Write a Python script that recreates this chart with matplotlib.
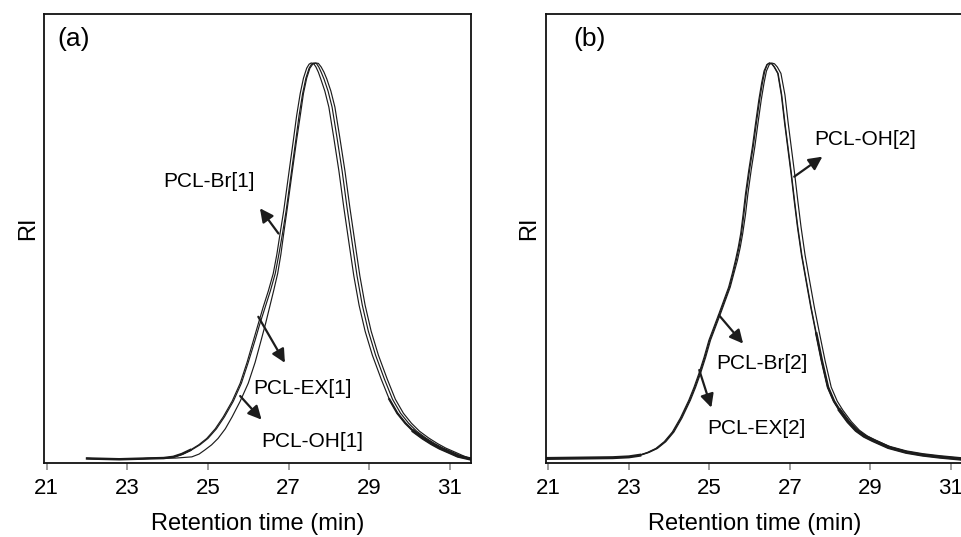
import numpy as np
import matplotlib
matplotlib.use("Agg")
import matplotlib.pyplot as plt

plt.rcParams['font.family'] = ['Liberation Sans', 'DejaVu Sans']

# ---- panel (a): GPC traces (x = min, y = normalised RI)
# all three traces are read at the same set of heights
a_y = [0.012, 0.01, 0.012, 0.013, 0.016, 0.023, 0.033, 0.046, 0.062, 0.086, 0.116, 0.155, 0.2,
       0.252, 0.3075, 0.349, 0.39, 0.431, 0.474, 0.522, 0.574, 0.631, 0.69, 0.749, 0.8075,
       0.868, 0.924, 0.962, 0.987, 0.997, 1.0, 0.999, 0.99, 0.977, 0.96, 0.93, 0.89, 0.815,
       0.73, 0.64, 0.55, 0.468, 0.395, 0.33, 0.27, 0.21, 0.16, 0.125, 0.1, 0.08, 0.063, 0.049,
       0.038, 0.027, 0.018, 0.01]
a_br_x = [22.0, 22.8, 23.5, 23.9, 24.14, 24.35, 24.56, 24.77, 24.97, 25.18, 25.38, 25.6, 25.8,
          25.97, 26.13, 26.25, 26.37, 26.5, 26.62, 26.71, 26.79, 26.88, 26.96, 27.04, 27.12,
          27.2, 27.29, 27.37, 27.45, 27.51, 27.56, 27.62, 27.68, 27.74, 27.8, 27.9, 28.0, 28.12,
          28.25, 28.37, 28.5, 28.62, 28.75, 28.9, 29.08, 29.3, 29.5, 29.7, 29.9, 30.1, 30.33,
          30.55, 30.75, 31.0, 31.2, 31.55]
a_ex_x = [22.0, 22.8, 23.5, 23.93, 24.17, 24.38, 24.59, 24.8, 25.0, 25.21, 25.41, 25.63, 25.83,
          26.0, 26.17, 26.29, 26.42, 26.55, 26.67, 26.76, 26.85, 26.94, 27.02, 27.1, 27.18,
          27.26, 27.35, 27.43, 27.51, 27.57, 27.63, 27.69, 27.75, 27.81, 27.88, 27.98, 28.08,
          28.2, 28.33, 28.45, 28.58, 28.7, 28.83, 28.98, 29.16, 29.38, 29.58, 29.78, 29.98,
          30.18, 30.41, 30.63, 30.83, 31.08, 31.28, 31.55]
a_oh_x = [22.0, 22.8, 23.5, 24.2, 24.6, 24.78, 24.92, 25.09, 25.25, 25.43, 25.6, 25.8, 26.0,
          26.17, 26.32, 26.43, 26.53, 26.63, 26.73, 26.81, 26.88, 26.96, 27.04, 27.12, 27.2,
          27.29, 27.37, 27.45, 27.53, 27.6, 27.67, 27.74, 27.81, 27.88, 27.95, 28.05, 28.15,
          28.27, 28.4, 28.52, 28.65, 28.77, 28.9, 29.05, 29.23, 29.45, 29.65, 29.85, 30.05,
          30.25, 30.48, 30.7, 30.9, 31.15, 31.35, 31.55]

# ---- panel (b)
b_y = [0.012, 0.013, 0.014, 0.016, 0.02, 0.027, 0.037, 0.054, 0.078, 0.113, 0.1575, 0.19,
       0.224, 0.265, 0.3075, 0.342, 0.374, 0.407, 0.44, 0.474, 0.5075, 0.54, 0.574, 0.622,
       0.674, 0.732, 0.79, 0.85, 0.9075, 0.95, 0.98, 0.996, 1.0, 0.998, 0.99, 0.974, 0.92,
       0.85, 0.787, 0.724, 0.655, 0.59, 0.52, 0.4575, 0.39, 0.324, 0.255, 0.19, 0.155, 0.1325,
       0.104, 0.0825, 0.068, 0.0575, 0.04, 0.028, 0.021, 0.016, 0.01]
b_br_x = [20.95, 21.8, 22.6, 23.0, 23.27, 23.48, 23.69, 23.9, 24.1, 24.3, 24.51, 24.64, 24.76,
          24.89, 25.01, 25.14, 25.26, 25.38, 25.5, 25.59, 25.67, 25.74, 25.8, 25.86, 25.92, 26.0,
          26.09, 26.17, 26.25, 26.32, 26.38, 26.44, 26.5, 26.56, 26.62, 26.71, 26.8, 26.88,
          26.96, 27.04, 27.12, 27.2, 27.3, 27.41, 27.53, 27.66, 27.8, 27.95, 28.1, 28.24, 28.45,
          28.65, 28.85, 29.06, 29.45, 29.89, 30.3, 30.72, 31.35]
b_ex_x = [20.95, 21.8, 22.6, 22.98, 23.25, 23.46, 23.67, 23.88, 24.08, 24.28, 24.49, 24.62,
          24.74, 24.87, 24.99, 25.12, 25.24, 25.36, 25.48, 25.57, 25.65, 25.72, 25.78, 25.84,
          25.9, 25.98, 26.07, 26.15, 26.23, 26.3, 26.36, 26.43, 26.49, 26.55, 26.61, 26.7, 26.79,
          26.87, 26.95, 27.03, 27.11, 27.19, 27.29, 27.4, 27.52, 27.65, 27.79, 27.94, 28.09,
          28.23, 28.44, 28.64, 28.84, 29.05, 29.44, 29.88, 30.29, 30.71, 31.35]
b_oh_x = [20.95, 21.8, 22.6, 23.02, 23.29, 23.5, 23.71, 23.92, 24.12, 24.32, 24.53, 24.66,
          24.78, 24.91, 25.03, 25.16, 25.28, 25.4, 25.52, 25.61, 25.7, 25.77, 25.83, 25.9, 25.96,
          26.04, 26.13, 26.21, 26.29, 26.36, 26.42, 26.49, 26.55, 26.62, 26.69, 26.78, 26.88,
          26.96, 27.04, 27.12, 27.2, 27.28, 27.38, 27.49, 27.61, 27.74, 27.88, 28.03, 28.18,
          28.32, 28.53, 28.73, 28.93, 29.14, 29.52, 29.96, 30.36, 30.78, 31.35]

# labels: (text, label x, label y, arrow tail x, tail y, head x, head y)
a_notes = [("PCL-Br[1]", 25.03, 0.703, 26.75, 0.574, 26.29, 0.637),
           ("PCL-EX[1]", 27.34, 0.188, 26.25, 0.366, 26.91, 0.251),
           ("PCL-OH[1]", 27.58, 0.055, 25.80, 0.168, 26.33, 0.109)]
b_notes = [("PCL-OH[2]", 28.88, 0.809, 27.11, 0.716, 27.81, 0.766),
           ("PCL-Br[2]", 26.30, 0.250, 25.24, 0.370, 25.84, 0.299),
           ("PCL-EX[2]", 26.18, 0.088, 24.75, 0.233, 25.05, 0.139)]

xticks = [21, 23, 25, 27, 29, 31]
line_col = '#1c1c1c'

fig = plt.figure(figsize=(9.62, 5.37), dpi=100)
ax_a = fig.add_axes([0.0461, 0.1373, 0.4436, 0.8367])
ax_b = fig.add_axes([0.5673, 0.1373, 0.4348, 0.8367])


def style_axis(ax, xlim, tag, tag_x):
    ax.set_xlim(*xlim)
    ax.set_ylim(0, 1.1225)
    ax.set_xticks(xticks)
    ax.set_yticks([])
    ax.tick_params(axis='x', direction='out', length=5, width=1.2, color='#8c8c8c',
                   labelsize=16, pad=5.5, labelcolor='black')
    for sp in ax.spines.values():
        sp.set_linewidth(1.3)
        sp.set_color('#111111')
    ax.set_xlabel('Retention time (min)', fontsize=17, labelpad=10)
    ax.set_ylabel('RI', fontsize=17)
    ax.yaxis.set_label_coords(-0.013, 0.524)
    ax.text(tag_x, 0.944, tag, transform=ax.transAxes, fontsize=19, ha='left', va='center')


def draw_notes(ax, notes):
    for txt, lx, ly, tx, ty, hx, hy in notes:
        ax.text(lx, ly, txt, fontsize=15, ha='center', va='center')
        ax.annotate('', xy=(hx, hy), xytext=(tx, ty),
                    arrowprops=dict(arrowstyle='-|>', lw=1.6, color=line_col,
                                    mutation_scale=20, shrinkA=0, shrinkB=0))


for xs in [a_br_x, a_ex_x, a_oh_x]:
    ax_a.plot(xs, a_y, color=line_col, lw=0.85)
for xs in [b_br_x, b_ex_x, b_oh_x]:
    ax_b.plot(xs, b_y, color=line_col, lw=0.85)

# noisy baseline and tails show up as a thicker band in the original
a_x = np.array(a_br_x)
a_yy = np.array(a_y)
ax_a.plot(a_x[a_x >= 29.5], a_yy[a_x >= 29.5], color=line_col, lw=1.6)
ax_a.plot(a_x[a_x >= 30.1], a_yy[a_x >= 30.1], color=line_col, lw=2.4)
ax_a.plot(a_x[a_x <= 24.6], a_yy[a_x <= 24.6], color=line_col, lw=1.8)
b_x = np.array(b_br_x)
b_yy = np.array(b_y)
ax_b.plot(b_x[b_x >= 27.66], b_yy[b_x >= 27.66], color=line_col, lw=1.8)
ax_b.plot(b_x[b_x >= 28.24], b_yy[b_x >= 28.24], color=line_col, lw=2.6)
ax_b.plot(b_x[b_x <= 23.3], b_yy[b_x <= 23.3], color=line_col, lw=2.2)

style_axis(ax_a, (20.94, 31.53), '(a)', 0.03)
style_axis(ax_b, (20.935, 31.33), '(b)', 0.065)
ax_b.spines['right'].set_visible(False)

draw_notes(ax_a, a_notes)
draw_notes(ax_b, b_notes)

fig.savefig('out.png', dpi=100)
